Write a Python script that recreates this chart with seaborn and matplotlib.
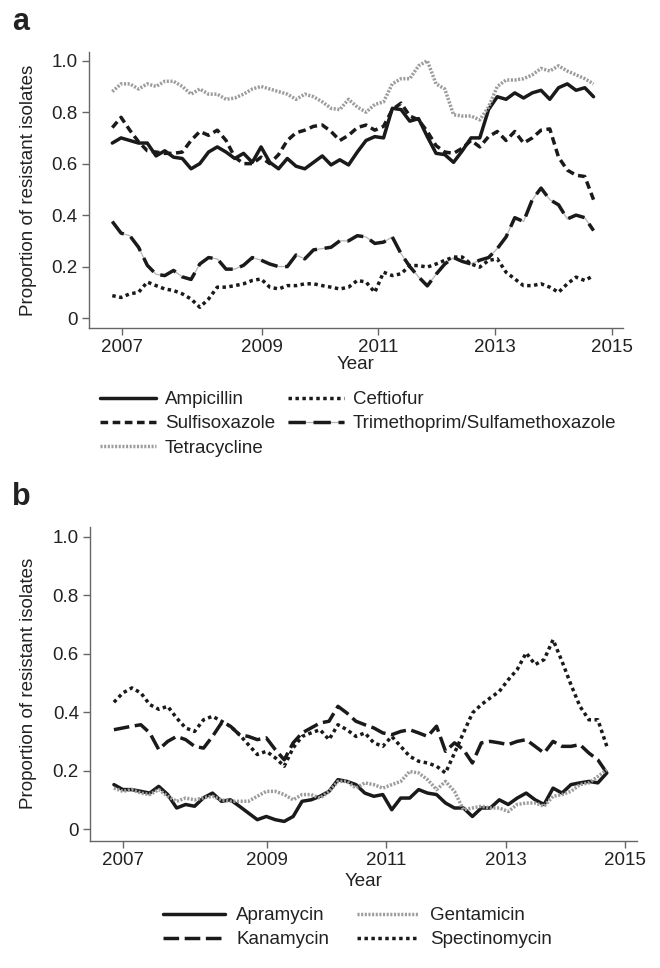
import matplotlib
matplotlib.use("Agg")
import matplotlib.pyplot as plt
from matplotlib.lines import Line2D
import numpy as np
import pandas as pd
import seaborn as sns

# time grid (decimal years, ~ every 1.8 months)
year = np.round(2006.44 + 0.15 * np.arange(56), 2)

# panel a
ampicillin = [0.68, 0.70, 0.69, 0.68, 0.68, 0.63, 0.65, 0.625, 0.62, 0.58, 0.60, 0.645, 0.665, 0.645,
              0.62, 0.64, 0.605, 0.665, 0.605, 0.58, 0.62, 0.59, 0.58, 0.605, 0.63, 0.595, 0.615, 0.595,
              0.645, 0.69, 0.705, 0.70, 0.815, 0.81, 0.765, 0.775, 0.705, 0.64, 0.635, 0.605, 0.65, 0.70,
              0.70, 0.81, 0.86, 0.85, 0.875, 0.855, 0.875, 0.885, 0.85, 0.895, 0.91, 0.885, 0.895, 0.86]
sulfisoxazole = [0.74, 0.78, 0.73, 0.685, 0.65, 0.645, 0.64, 0.64, 0.645, 0.69, 0.725, 0.71, 0.73, 0.69,
                 0.625, 0.60, 0.60, 0.625, 0.60, 0.635, 0.69, 0.72, 0.73, 0.745, 0.75, 0.725, 0.69, 0.71,
                 0.74, 0.75, 0.73, 0.745, 0.81, 0.835, 0.785, 0.77, 0.725, 0.67, 0.645, 0.64, 0.66, 0.69,
                 0.665, 0.705, 0.725, 0.69, 0.725, 0.68, 0.70, 0.73, 0.735, 0.625, 0.575, 0.555, 0.55, 0.46]
tetracycline = [0.88, 0.91, 0.91, 0.89, 0.91, 0.90, 0.92, 0.92, 0.90, 0.87, 0.89, 0.87, 0.87, 0.85,
                0.855, 0.87, 0.89, 0.90, 0.89, 0.88, 0.87, 0.85, 0.87, 0.86, 0.84, 0.815, 0.81, 0.85,
                0.82, 0.80, 0.83, 0.84, 0.91, 0.93, 0.93, 0.98, 1.00, 0.91, 0.89, 0.79, 0.785, 0.785,
                0.77, 0.82, 0.90, 0.925, 0.925, 0.93, 0.945, 0.97, 0.96, 0.98, 0.96, 0.945, 0.93, 0.91]
ceftiofur = [0.087, 0.08, 0.094, 0.10, 0.14, 0.126, 0.113, 0.107, 0.094, 0.074, 0.042, 0.074, 0.12, 0.12,
             0.126, 0.133, 0.146, 0.152, 0.12, 0.113, 0.126, 0.126, 0.133, 0.133, 0.126, 0.12, 0.113, 0.12,
             0.146, 0.14, 0.10, 0.178, 0.165, 0.172, 0.204, 0.204, 0.198, 0.21, 0.224, 0.237, 0.237, 0.21,
             0.198, 0.224, 0.23, 0.178, 0.152, 0.126, 0.126, 0.133, 0.12, 0.10, 0.133, 0.159, 0.146, 0.165]
trimethoprim = [0.375, 0.33, 0.32, 0.275, 0.205, 0.17, 0.165, 0.185, 0.16, 0.15, 0.21, 0.235, 0.23, 0.19,
                0.19, 0.205, 0.235, 0.225, 0.21, 0.20, 0.20, 0.245, 0.23, 0.265, 0.27, 0.275, 0.30, 0.30,
                0.32, 0.315, 0.29, 0.295, 0.315, 0.25, 0.20, 0.16, 0.125, 0.17, 0.21, 0.235, 0.22, 0.21,
                0.225, 0.235, 0.27, 0.315, 0.39, 0.375, 0.46, 0.505, 0.46, 0.44, 0.385, 0.40, 0.39, 0.34]

# panel b
apramycin = [0.152, 0.135, 0.135, 0.129, 0.123, 0.146, 0.118, 0.072, 0.084, 0.078, 0.107, 0.123, 0.095, 0.10,
             0.078, 0.055, 0.032, 0.043, 0.032, 0.026, 0.043, 0.095, 0.10, 0.112, 0.129, 0.169, 0.163, 0.152,
             0.123, 0.112, 0.118, 0.066, 0.106, 0.106, 0.135, 0.123, 0.118, 0.089, 0.072, 0.072, 0.043, 0.072,
             0.072, 0.10, 0.084, 0.106, 0.123, 0.10, 0.084, 0.14, 0.123, 0.152, 0.158, 0.163, 0.158, 0.192]
kanamycin = [0.34, 0.346, 0.352, 0.357, 0.329, 0.272, 0.30, 0.317, 0.306, 0.283, 0.277, 0.317, 0.363, 0.352,
             0.323, 0.317, 0.306, 0.312, 0.272, 0.237, 0.295, 0.329, 0.346, 0.363, 0.369, 0.42, 0.397, 0.369,
             0.357, 0.346, 0.329, 0.323, 0.334, 0.34, 0.329, 0.317, 0.352, 0.266, 0.295, 0.272, 0.226, 0.295,
             0.30, 0.295, 0.289, 0.30, 0.306, 0.283, 0.26, 0.30, 0.283, 0.283, 0.289, 0.26, 0.237, 0.192]
gentamicin = [0.14, 0.129, 0.135, 0.123, 0.118, 0.135, 0.112, 0.095, 0.106, 0.10, 0.107, 0.112, 0.10, 0.095,
              0.095, 0.095, 0.112, 0.129, 0.129, 0.118, 0.10, 0.118, 0.118, 0.106, 0.129, 0.163, 0.163, 0.14,
              0.158, 0.152, 0.14, 0.152, 0.163, 0.197, 0.192, 0.169, 0.135, 0.163, 0.129, 0.066, 0.072, 0.078,
              0.072, 0.072, 0.06, 0.084, 0.089, 0.089, 0.078, 0.112, 0.118, 0.129, 0.152, 0.158, 0.18, 0.203]
spectinomycin = [0.434, 0.466, 0.483, 0.466, 0.426, 0.41, 0.42, 0.38, 0.346, 0.334, 0.374, 0.386, 0.369, 0.352,
                 0.323, 0.289, 0.255, 0.266, 0.244, 0.215, 0.278, 0.317, 0.329, 0.34, 0.306, 0.357, 0.34, 0.317,
                 0.329, 0.295, 0.283, 0.317, 0.283, 0.249, 0.232, 0.226, 0.215, 0.192, 0.26, 0.329, 0.397, 0.426,
                 0.449, 0.471, 0.511, 0.546, 0.603, 0.563, 0.58, 0.648, 0.574, 0.494, 0.42, 0.374, 0.374, 0.283]

yticks = [0, 0.2, 0.4, 0.6, 0.8, 1.0]
ytick_labels = ["0", "0.2", "0.4", "0.6", "0.8", "1.0"]
xtick_pos = [2006.6, 2009, 2011, 2013, 2015]
xtick_labels = ["2007", "2009", "2011", "2013", "2015"]

BLACK = "#1a1a1a"
GRAY = "#9c9c9c"
LW = 2.5
FS = 13.5

# name -> (color, dashes)
styles_a = {
    "Ampicillin": (BLACK, ""),
    "Sulfisoxazole": (BLACK, (2.2, 1.3)),
    "Tetracycline": (GRAY, (0.6, 0.45)),
    "Ceftiofur": (BLACK, (1, 1)),
    "Trimethoprim/Sulfamethoxazole": (BLACK, (5, 2.2)),
}
styles_b = {
    "Apramycin": (BLACK, ""),
    "Kanamycin": (BLACK, (4.5, 1.6)),
    "Gentamicin": (GRAY, (0.6, 0.45)),
    "Spectinomycin": (BLACK, (1, 1)),
}

df_a = pd.DataFrame({"year": year, "Ampicillin": ampicillin, "Sulfisoxazole": sulfisoxazole,
                     "Tetracycline": tetracycline, "Ceftiofur": ceftiofur,
                     "Trimethoprim/Sulfamethoxazole": trimethoprim})
df_b = pd.DataFrame({"year": year, "Apramycin": apramycin, "Kanamycin": kanamycin,
                     "Gentamicin": gentamicin, "Spectinomycin": spectinomycin})

sns.set_style("ticks")
plt.rcParams["font.family"] = ["Liberation Sans", "DejaVu Sans"]
plt.rcParams["text.color"] = "#222222"
plt.rcParams["axes.labelcolor"] = "#222222"
plt.rcParams["xtick.color"] = "#666666"
plt.rcParams["ytick.color"] = "#666666"
plt.rcParams["xtick.labelcolor"] = "#222222"
plt.rcParams["ytick.labelcolor"] = "#222222"

fig = plt.figure(figsize=(6.6, 9.68), dpi=100)
ax_a = fig.add_axes([0.1348, 0.6608, 0.8087, 0.2858])
ax_b = fig.add_axes([0.1364, 0.1315, 0.8283, 0.3244])


def draw_panel(ax, df, styles, gray_gap=None):
    long = df.melt(id_vars="year", var_name="drug", value_name="prop")
    order = list(styles)
    if gray_gap:
        # light gray line showing through the gaps of the long-dash series
        sns.lineplot(data=df, x="year", y=gray_gap, ax=ax, color="#b5b5b5", lw=0.9, zorder=1)
    sns.lineplot(
        data=long, x="year", y="prop", hue="drug", style="drug",
        hue_order=order, style_order=order,
        palette={k: v[0] for k, v in styles.items()},
        dashes={k: v[1] for k, v in styles.items()},
        linewidth=LW, legend=False, ax=ax, zorder=2,
    )
    for line in ax.lines:
        line.set_dash_capstyle("butt")
    ax.set_xlim(2006.04, 2015.19)
    ax.set_ylim(-0.04, 1.035)
    ax.set_xticks(xtick_pos)
    ax.set_xticklabels(xtick_labels)
    ax.set_yticks(yticks)
    ax.set_yticklabels(ytick_labels)
    ax.tick_params(labelsize=FS, length=5, width=1, pad=3)
    ax.set_xlabel("Year", fontsize=FS)
    ax.set_ylabel("Proportion of resistant isolates", fontsize=FS)
    for side in ["left", "bottom"]:
        ax.spines[side].set_color("#666666")
        ax.spines[side].set_linewidth(1)
    sns.despine(ax=ax)


def legend_handles(styles, gray_gap=None):
    handles = []
    for name, (color, dashes) in styles.items():
        line = Line2D([], [], color=color, lw=LW, dash_capstyle="butt")
        if dashes:
            line.set_dashes(dashes)
        if name == gray_gap:
            handles.append((Line2D([], [], color="#b5b5b5", lw=0.9), line))
        else:
            handles.append(line)
    return handles


draw_panel(ax_a, df_a, styles_a, gray_gap="Trimethoprim/Sulfamethoxazole")
draw_panel(ax_b, df_b, styles_b)

ax_a.yaxis.set_label_coords(-0.0975, 0.5)
ax_b.yaxis.set_label_coords(-0.097, 0.5)
ax_a.xaxis.set_label_coords(0.5, -0.1)
ax_b.xaxis.set_label_coords(0.5, -0.102)

fig.legend(legend_handles(styles_a, "Trimethoprim/Sulfamethoxazole"), list(styles_a),
           loc="upper left", bbox_to_anchor=(100 / 660, 1 - 391 / 968), ncol=2, frameon=False,
           fontsize=FS, handlelength=3.0, handletextpad=0.45, columnspacing=0.7,
           labelspacing=0.38, borderpad=0, borderaxespad=0)
fig.legend(legend_handles(styles_b), list(styles_b),
           loc="upper left", bbox_to_anchor=(163 / 660, 1 - 907 / 968), ncol=2, frameon=False,
           fontsize=FS, handlelength=3.3, handletextpad=0.6, columnspacing=1.5,
           labelspacing=0.38, borderpad=0, borderaxespad=0)

fig.text(12 / 660, 1 - 30 / 968, "a", fontsize=22, fontweight="bold", va="baseline")
fig.text(12 / 660, 1 - 505 / 968, "b", fontsize=22, fontweight="bold", va="baseline")

fig.savefig("out.png", dpi=100)
